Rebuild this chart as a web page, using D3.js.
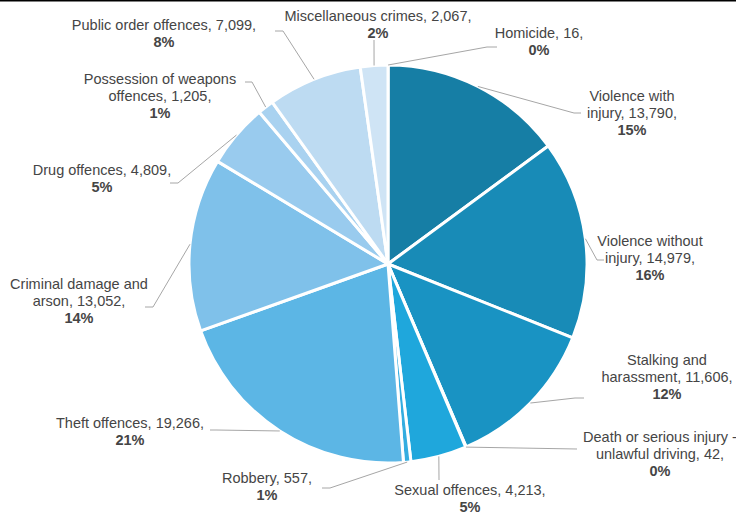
<!DOCTYPE html>
<html>
<head>
<meta charset="utf-8">
<script src="https://cdn.jsdelivr.net/npm/d3@7"></script>
<style>
  body { margin: 0; background: #fff; }
  text { font-family: "Liberation Sans", Arial, sans-serif; font-size: 14.5px; fill: #454545; }
</style>
</head>
<body>
<div id="chart"></div>
<script>
// categories, clockwise from 12 o'clock
var categories = [
  "Homicide", "Violence with injury", "Violence without injury", "Stalking and harassment",
  "Death or serious injury - unlawful driving", "Sexual offences", "Robbery", "Theft offences",
  "Criminal damage and arson", "Drug offences", "Possession of weapons offences",
  "Public order offences", "Miscellaneous crimes"
];
var counts = [16, 13790, 14979, 11606, 42, 4213, 557, 19266, 13052, 4809, 1205, 7099, 2067];
var pctLabels = ["0%", "15%", "16%", "12%", "0%", "5%", "1%", "21%", "14%", "5%", "1%", "8%", "2%"];
// label text as wrapped in the chart (last line is the percentage)
var labelLines = [
  ["Homicide, 16,"],
  ["Violence with", "injury, 13,790,"],
  ["Violence without", "injury, 14,979,"],
  ["Stalking and", "harassment, 11,606,"],
  ["Death or serious injury -", "unlawful driving, 42,"],
  ["Sexual offences, 4,213,"],
  ["Robbery, 557,"],
  ["Theft offences, 19,266,"],
  ["Criminal damage and", "arson, 13,052,"],
  ["Drug offences, 4,809,"],
  ["Possession of weapons", "offences, 1,205,"],
  ["Public order offences, 7,099,"],
  ["Miscellaneous crimes, 2,067,"]
];
var colors = ["#d3e5f5", "#167ea5", "#188bb7", "#1993c3", "#1b9cd0", "#1fa7dc", "#34ade0",
  "#5cb6e5", "#7fc1ea", "#99cbee", "#a9d2f0", "#bddbf2", "#cfe4f5"];

// label placement: centre x, first line centre y, leader elbow and end
var layout = [
  { x: 539, y: 33,  elbow: [487, 47],  end: [497, 47] },
  { x: 632, y: 96,  elbow: [574, 113], end: [581, 113] },
  { x: 650, y: 241, elbow: [597, 260], end: [604, 260] },
  { x: 667, y: 360, elbow: [575, 398], end: [584, 398] },
  { x: 660, y: 437, elbow: [577, 449], end: [577, 449] },
  { x: 470, y: 490, elbow: [439, 480], end: [439, 480] },
  { x: 267, y: 478, elbow: [330, 488], end: [322, 488] },
  { x: 130, y: 423, elbow: [216, 430], end: [210, 430] },
  { x: 79,  y: 284, elbow: [153, 307], end: [145, 307] },
  { x: 102, y: 170, elbow: [178, 183], end: [170, 183] },
  { x: 160, y: 79,  elbow: [252, 82],  end: [245, 82] },
  { x: 164, y: 25,  elbow: [283, 31],  end: [275, 31] },
  { x: 378, y: 16,  elbow: [374, 40],  end: [374, 40] }
];

var width = 736, height = 512;
var cx = 388, cy = 264, radius = 199;

var svg = d3.select("#chart").append("svg")
  .attr("width", width)
  .attr("height", height);

svg.append("rect")
  .attr("x", 0).attr("y", 0)
  .attr("width", width).attr("height", 1.5)
  .attr("fill", "#000");

var data = categories.map(function (c, i) { return { name: c, value: counts[i], i: i }; });

var pie = d3.pie().sort(null).value(function (d) { return d.value; });
var arcs = pie(data);

var arc = d3.arc().innerRadius(0).outerRadius(radius);
var edge = d3.arc().innerRadius(radius).outerRadius(radius);

var g = svg.append("g").attr("transform", "translate(" + cx + "," + cy + ")");

g.selectAll("path.slice")
  .data(arcs)
  .enter()
  .append("path")
    .attr("class", "slice")
    .attr("d", arc)
    .attr("fill", function (d) { return colors[d.data.i]; })
    .attr("stroke", "#fff")
    .attr("stroke-width", 3)
    .attr("stroke-linejoin", "round");

// leader lines from the slice edge to the label
svg.selectAll("polyline.leader")
  .data(arcs)
  .enter()
  .append("polyline")
    .attr("class", "leader")
    .attr("fill", "none")
    .attr("stroke", "#a6a6a6")
    .attr("stroke-width", 1)
    .attr("points", function (d) {
      var p = edge.centroid(d);
      var l = layout[d.data.i];
      return [[p[0] + cx, p[1] + cy], l.elbow, l.end].join(" ");
    });

// labels
var labels = svg.selectAll("text.lbl")
  .data(arcs)
  .enter()
  .append("text")
    .attr("class", "lbl")
    .attr("text-anchor", "middle");

labels.each(function (d) {
  var l = layout[d.data.i];
  var lines = labelLines[d.data.i].concat([pctLabels[d.data.i]]);
  var t = d3.select(this);
  lines.forEach(function (s, k) {
    t.append("tspan")
      .attr("x", l.x)
      .attr("y", l.y + k * 17)
      .attr("dy", "0.35em")
      .style("font-weight", k === lines.length - 1 ? "bold" : "normal")
      .text(s);
  });
});
</script>
</body>
</html>
